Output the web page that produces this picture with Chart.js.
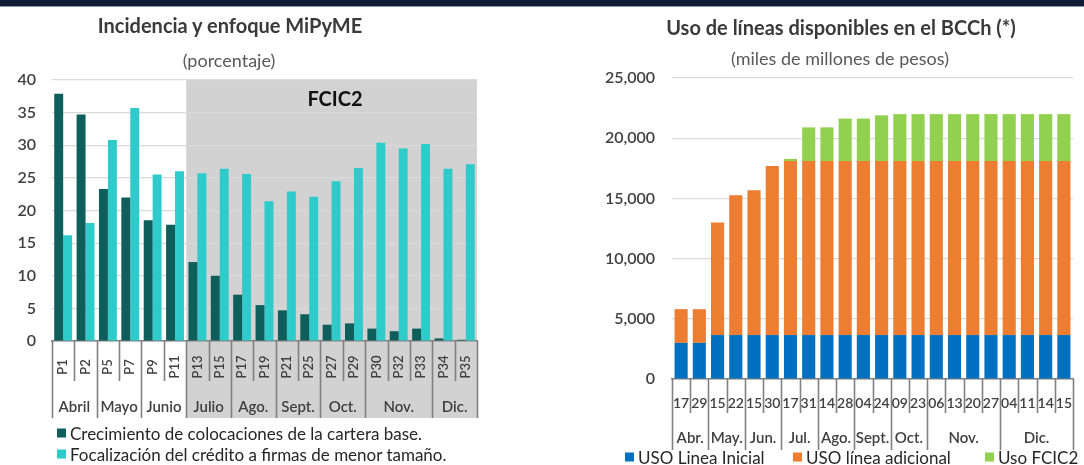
<!DOCTYPE html>
<html>
<head>
<meta charset="utf-8">
<script src="https://cdn.jsdelivr.net/npm/chart.js@4"></script>
<style>
  body { margin: 0; width: 1084px; height: 465px; background: #fff; position: relative; overflow: hidden; font-family: Lato, sans-serif; }
  #band { position: absolute; left: 0; top: 0; width: 1084px; height: 6px; background: #111d35; border-bottom: 1px solid #8a94a6; }
  canvas { position: absolute; top: 0; }
  .t { position: absolute; transform: translate(-50%, -50%); white-space: nowrap; }
  .title { font-weight: 700; font-size: 20px; color: #3a3a3a; }
  .sub { font-size: 18px; color: #595959; }
  .leg { position: absolute; font-size: 17px; color: #262626; white-space: nowrap; transform: translateY(-50%); }
  .sq { position: absolute; width: 9px; height: 9px; transform: translateY(-50%); }
</style>
</head>
<body>
<div id="band"></div>
<canvas id="c1" width="540" height="465" style="left:0;width:540px;height:465px"></canvas>
<canvas id="c2" width="544" height="465" style="left:540px;width:544px;height:465px"></canvas>

<div class="t title" style="left:230px;top:25px">Incidencia y enfoque MiPyME</div>
<div class="t sub" style="left:229px;top:60px">(porcentaje)</div>
<div class="t title" style="left:841px;top:27px">Uso de líneas disponibles en el BCCh (*)</div>
<div class="t sub" style="left:840px;top:58px">(miles de millones de pesos)</div>

<div class="sq" style="left:57px;top:433px;background:#0e5f5c"></div>
<div class="leg" style="left:70px;top:433px">Crecimiento de colocaciones de la cartera base.</div>
<div class="sq" style="left:57px;top:454px;background:#2fcbcb"></div>
<div class="leg" style="left:70px;top:454px">Focalización del crédito a firmas de menor tamaño.</div>

<div class="sq" style="left:625px;top:457px;background:#0070c0"></div>
<div class="leg" style="left:638px;top:457px">USO Linea Inicial</div>
<div class="sq" style="left:793px;top:457px;background:#ed7d31"></div>
<div class="leg" style="left:806px;top:457px">USO línea adicional</div>
<div class="sq" style="left:985px;top:457px;background:#92d050"></div>
<div class="leg" style="left:998px;top:457px">Uso FCIC2</div>

<script>
// grafico 1: incidencia y enfoque
const periodos = ['P1','P2','P5','P7','P9','P11','P13','P15','P17','P19','P21','P25','P27','P29','P30','P32','P33','P34','P35'];
const meses1 = ['Abril','Mayo','Junio','Julio','Ago.','Sept.','Oct.','Nov.','Dic.'];
const mesesCant1 = [2,2,2,2,2,2,2,3,2];
const crecimiento = [37.9,34.7,23.3,22.0,18.5,17.8,12.1,10.0,7.1,5.5,4.7,4.1,2.5,2.7,1.9,1.5,1.9,0.4,0.2];
const focalizacion = [16.2,18.1,30.8,35.7,25.5,26.0,25.7,26.4,25.6,21.4,22.9,22.1,24.5,26.5,30.4,29.5,30.2,26.4,27.1];

// grafico 2: uso de lineas
const fechas = ['17','29','15','22','15','30','17','31','14','28','04','24','09','23','06','13','20','27','04','11','14','15'];
const meses2 = ['Abr.','May.','Jun.','Jul.','Ago.','Sept.','Oct.','Nov.','Dic.'];
const mesesCant2 = [2,2,2,2,2,2,2,4,4];
const lineaInicial = [3000,3000,3650,3650,3650,3650,3650,3650,3650,3650,3650,3650,3650,3650,3650,3650,3650,3650,3650,3650,3650,3650];
const lineaAdicional = [2800,2800,9350,11620,12030,14050,14450,14450,14450,14450,14450,14450,14450,14450,14450,14450,14450,14450,14450,14450,14450,14450];
const usoFcic2 = [0,0,0,0,0,0,180,2800,2800,3530,3530,3800,3900,3900,3900,3900,3900,3900,3900,3900,3900,3900];

// eje de dos niveles (categoria + mes), dibujado a mano
const ejeMeses = {
    id: 'ejeMeses',
    beforeDraw: function(chart, args, o) {
        if (!o.sombra) return;
        const x = chart.scales.x, y = chart.scales.y, ctx = chart.ctx;
        const w = x.width / chart.data.labels.length;
        const x0 = x.left + o.sombra * w;
        ctx.save();
        ctx.fillStyle = '#d2d2d2';
        ctx.fillRect(x0, y.getPixelForValue(y.max), x.right - x0, o.largo - y.getPixelForValue(y.max));
        ctx.fillStyle = '#111';
        ctx.font = '700 20px Lato';
        ctx.textAlign = 'center';
        ctx.textBaseline = 'middle';
        ctx.fillText(o.texto, o.textoX, o.textoY);
        ctx.restore();
    },
    afterDraw: function(chart, args, o) {
        const x = chart.scales.x, ctx = chart.ctx;
        const labels = chart.data.labels;
        const n = labels.length;
        const w = x.width / n;
        const base = chart.chartArea.bottom;
        const limites = [0];
        o.cant.forEach(function(c) { limites.push(limites[limites.length - 1] + c); });
        ctx.save();
        ctx.strokeStyle = '#808080';
        ctx.lineWidth = 1.6;
        for (let i = 0; i <= n; i++) {
            const px = Math.round(x.left + i * w) + 0.5;
            ctx.beginPath();
            ctx.moveTo(px, base);
            ctx.lineTo(px, limites.indexOf(i) >= 0 ? o.largo : o.corto);
            ctx.stroke();
        }
        ctx.fillStyle = '#404040';
        ctx.textBaseline = 'middle';
        ctx.font = o.fuenteCat;
        labels.forEach(function(l, i) {
            const cx = x.getPixelForValue(i);
            if (o.rotar) {
                ctx.save();
                ctx.translate(cx, o.catY);
                ctx.rotate(-Math.PI / 2);
                ctx.textAlign = 'center';
                ctx.fillText(l, 0, 0);
                ctx.restore();
            } else {
                ctx.textAlign = 'center';
                ctx.fillText(l, cx, o.catY);
            }
        });
        ctx.font = o.fuenteMes;
        ctx.textAlign = 'center';
        o.meses.forEach(function(m, k) {
            const cx = x.left + (limites[k] + limites[k + 1]) / 2 * w;
            ctx.fillText(m, cx, o.mesY);
        });
        ctx.restore();
    }
};

function ejeY(ancho, max, paso, pad, fmt) {
    return {
        min: 0, max: max,
        afterFit: function(s) { s.width = ancho; },
        ticks: { stepSize: paso, padding: pad, color: '#404040', font: { family: 'Lato', size: 16, weight: '600' }, callback: fmt },
        grid: { color: '#d9d9d9', lineWidth: 1.2, drawTicks: false },
        border: { display: false }
    };
}

new Chart(document.getElementById('c1'), {
    type: 'bar',
    plugins: [ejeMeses],
    data: {
        labels: periodos,
        datasets: [
            { label: 'Crecimiento de colocaciones de la cartera base.', data: crecimiento, backgroundColor: '#0e5f5c' },
            { label: 'Focalización del crédito a firmas de menor tamaño.', data: focalizacion, backgroundColor: '#2fcbcb' }
        ]
    },
    options: {
        responsive: false,
        animation: false,
        layout: { padding: { left: 0, right: 63, top: 80, bottom: 0 } },
        datasets: { bar: { categoryPercentage: 0.8, barPercentage: 1.0 } },
        scales: {
            x: {
                afterFit: function(s) { s.height = 124; },
                ticks: { display: false },
                grid: { display: false },
                border: { color: '#808080', width: 1.6 }
            },
            y: ejeY(52, 40, 5, 16)
        },
        plugins: {
            legend: { display: false },
            tooltip: { enabled: false },
            ejeMeses: {
                cant: mesesCant1, meses: meses1, rotar: true,
                catY: 367, mesY: 407, corto: 381, largo: 418,
                fuenteCat: '600 13px Lato', fuenteMes: '600 15px Lato',
                sombra: 6, texto: 'FCIC2', textoX: 335, textoY: 100
            }
        }
    }
});

new Chart(document.getElementById('c2'), {
    type: 'bar',
    plugins: [ejeMeses],
    data: {
        labels: fechas,
        datasets: [
            { label: 'USO Linea Inicial', data: lineaInicial, backgroundColor: '#0070c0' },
            { label: 'USO línea adicional', data: lineaAdicional, backgroundColor: '#ed7d31' },
            { label: 'Uso FCIC2', data: usoFcic2, backgroundColor: '#92d050' }
        ]
    },
    options: {
        responsive: false,
        animation: false,
        layout: { padding: { left: 0, right: 11, top: 78, bottom: 0 } },
        datasets: { bar: { categoryPercentage: 0.72, barPercentage: 1.0 } },
        scales: {
            x: {
                stacked: true,
                afterFit: function(s) { s.height = 86; },
                ticks: { display: false },
                grid: { display: false },
                border: { color: '#808080', width: 1.6 }
            },
            y: Object.assign(ejeY(132, 25000, 5000, 17, function(v) { return v.toLocaleString('en-US'); }), { stacked: true })
        },
        plugins: {
            legend: { display: false },
            tooltip: { enabled: false },
            ejeMeses: {
                cant: mesesCant2, meses: meses2, rotar: false,
                catY: 403, mesY: 438, corto: 413, largo: 450,
                fuenteCat: '600 14px Lato', fuenteMes: '600 15px Lato'
            }
        }
    }
});
</script>
</body>
</html>
